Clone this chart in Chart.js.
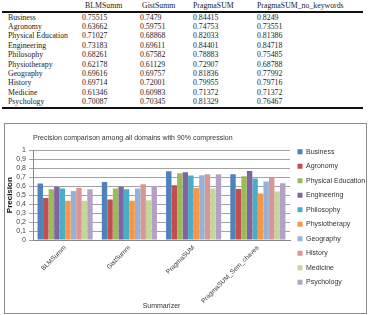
<!DOCTYPE html>
<html><head><meta charset="utf-8">
<script src="https://cdn.jsdelivr.net/npm/chart.js@4.4.1/dist/chart.umd.min.js"></script>
<style>
html,body{margin:0;padding:0;background:#fff;width:372px;height:315px;overflow:hidden;position:relative}
#tbl{position:absolute;left:0;top:0;width:372px;height:110px;font-family:"Liberation Serif","Times New Roman",serif;font-size:7.8px;color:#222}
#tbl span{position:absolute;white-space:nowrap;line-height:9px}
.rule{position:absolute;left:2px;width:361px;background:#111}
#box{position:absolute;left:4px;top:123px;width:361px;height:189px;border:1px solid #8a8a8a;box-sizing:content-box}
</style></head><body>
<div id="tbl"></div>
<div id="box"><canvas id="c" width="361" height="189"></canvas></div>
<script>
// ---- table data ----
const tableHeaders = ["BLMSumm", "GistSumm", "PragmaSUM", "PragmaSUM_no_keywords"];
const tableDomains = ["Business","Agronomy","Physical Education","Engineering","Philosophy","Physiotherapy","Geography","History","Medicine","Psychology"];
const tableBLMSumm = ["0.75515","0.63662","0.71027","0.73183","0.68261","0.62178","0.69616","0.69714","0.61346","0.70087"];
const tableGistSumm = ["0.7479","0.59751","0.68868","0.69611","0.67582","0.61129","0.69757","0.72001","0.60983","0.70345"];
const tablePragmaSUM = ["0.84415","0.74753","0.82033","0.84401","0.78883","0.72907","0.81836","0.79955","0.71372","0.81329"];
const tablePragmaNoKw = ["0.8249","0.73551","0.81386","0.84718","0.75485","0.68788","0.77992","0.79716","0.71372","0.76467"];

// ---- chart data ----
const summarizers = ["BLMSumm", "GistSumm", "PragmaSUM", "PragmaSUM_Sem_chaves"];
const domains = ["Business","Agronomy","Physical Education","Engineering","Philosophy","Physiotherapy","Geography","History","Medicine","Psychology"];
const business      = [0.630, 0.648, 0.767, 0.733];
const agronomy      = [0.470, 0.452, 0.611, 0.570];
const physicalEdu   = [0.567, 0.574, 0.744, 0.711];
const engineering   = [0.593, 0.593, 0.756, 0.770];
const philosophy    = [0.574, 0.567, 0.719, 0.685];
const physiotherapy = [0.437, 0.437, 0.581, 0.519];
const geography     = [0.548, 0.574, 0.722, 0.652];
const history       = [0.581, 0.622, 0.733, 0.693];
const medicine      = [0.437, 0.444, 0.574, 0.541];
const psychology    = [0.567, 0.600, 0.733, 0.633];
const yTicks = [0,0.1,0.2,0.3,0.4,0.5,0.6,0.7,0.8,0.9,1];

// ---- build table ----
const tbl = document.getElementById('tbl');
const colX = [85, 142, 193, 257];
const valX = [82, 140, 193, 257];
function addText(txt, x, y){ const s=document.createElement('span'); s.textContent=txt; s.style.left=x+'px'; s.style.top=y+'px'; tbl.appendChild(s); }
tableHeaders.forEach((h,i)=>addText(h, colX[i], 1));
const cols = [tableBLMSumm, tableGistSumm, tablePragmaSUM, tablePragmaNoKw];
tableDomains.forEach((d,r)=>{
  const y = 12.5 + r*9.4;
  addText(d, 8, y);
  cols.forEach((c,i)=>addText(c[r], valX[i], y));
});
function rule(y,h){ const d=document.createElement('div'); d.className='rule'; d.style.top=y+'px'; d.style.height=h+'px'; tbl.appendChild(d); }
rule(11, 1.5); rule(106.5, 2);

// ---- chart ----
const colors = ['#4F81BD','#C0504D','#9BBB59','#8064A2','#4BACC6','#F79646','#95B3D7','#D99694','#C3D69B','#B3A2C7'];
const series = [business, agronomy, physicalEdu, engineering, philosophy, physiotherapy, geography, history, medicine, psychology];
const FONT = "'Liberation Sans', Arial, sans-serif";

const legendWidth = {
  id:'legendWidth',
  afterInit(chart){
    const lg = chart.legend;
    const orig = lg.fit;
    lg.fit = function(){ orig.call(this); this.width = 76; };
  }
};

new Chart(document.getElementById('c'), {
  type:'bar',
  data:{
    labels: summarizers,
    datasets: domains.map((d,i)=>({label:d, data:series[i], backgroundColor:colors[i], borderWidth:0, barPercentage:0.98, categoryPercentage:0.86}))
  },
  options:{
    responsive:false, animation:false,
    layout:{padding:{left:0,right:0,top:0,bottom:3}},
    plugins:{
      title:{display:true, text:'Precision comparison among all domains with 90% compression', align:'start', fullSize:false,
        color:'#333', font:{family:FONT, size:7, weight:'normal'}, padding:{top:10, bottom:8}},
      legend:{position:'right', align:'center',
        labels:{boxWidth:5, boxHeight:5, padding:7.5, color:'#333', font:{family:FONT, size:7}}},
      tooltip:{enabled:false}
    },
    scales:{
      x:{
        afterFit(s){ s.height = 70; },
        grid:{display:false, drawTicks:false},
        border:{display:true, color:'#888'},
        ticks:{minRotation:45, maxRotation:45, color:'#333', font:{family:FONT, size:6.5}, padding:4},
        title:{display:true, text:'Summarizer', color:'#333', font:{family:FONT, size:7}, padding:{top:2,bottom:0}}
      },
      y:{
        min:0, max:1,
        afterBuildTicks(s){ s.ticks = yTicks.map(v=>({value:v})); },
        afterFit(s){ s.width = 28; },
        grid:{color:'#8c8c8c', lineWidth:0.8, tickLength:4},
        border:{display:true, color:'#888'},
        ticks:{autoSkip:false, color:'#444', font:{family:FONT, size:7}, padding:3,
          callback:(v)=>{ const r=Math.round(v*10)/10; return (r===0||r===1)? String(r) : r.toFixed(1).replace('.',','); }},
        title:{display:true, text:'Precision', color:'#111', font:{family:FONT, size:8, weight:'bold'}, padding:{top:0,bottom:0}}
      }
    }
  },
  plugins:[legendWidth]
});
</script>
</body></html>
